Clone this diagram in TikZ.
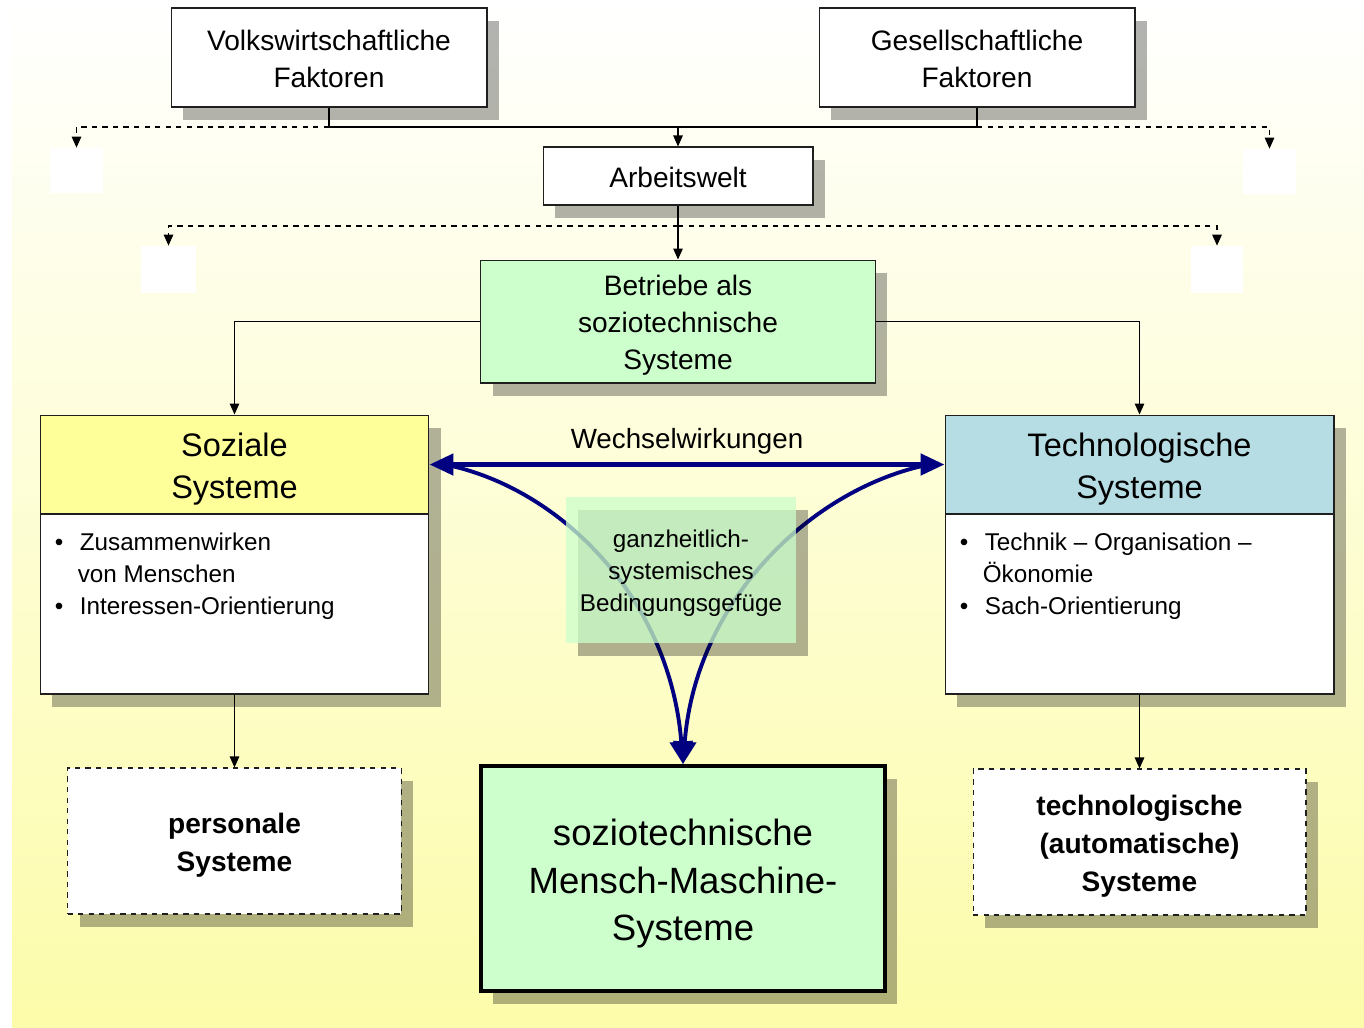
\documentclass[tikz,border=0pt]{standalone}
\usepackage{fontspec}
\setmainfont{Liberation Sans}
\usetikzlibrary{arrows.meta,positioning,shadows}
\definecolor{bgyellow}{HTML}{FCFCAA}
\definecolor{greenfill}{HTML}{CCFFCC}
\definecolor{headyellow}{HTML}{FFFF99}
\definecolor{headblue}{HTML}{B6DDE3}
\definecolor{navyline}{HTML}{000080}
\definecolor{boxline}{HTML}{1F1F1F}
\newcommand{\bul}{\makebox[0.5cm][l]{\textbullet}}
\newcommand{\tstrut}{\rule{0pt}{1.1em}}
\newcommand{\bstrut}{\rule[-0.3em]{0pt}{0.3em}}

\begin{document}
\begin{tikzpicture}[
  x=0.02cm, y=-0.02cm,
  shadowed/.style={drop shadow={shadow xshift=0.24cm, shadow yshift=-0.26cm, fill=black, opacity=0.3}},
  struts/.style={execute at end node=\bstrut},
  box/.style={
    draw=boxline,
    line width=0.6pt,
    fill=white,
    align=center,
    inner sep=0pt,
    struts,
    shadowed
  },
  factor/.style={box, minimum width=6.32cm, minimum height=1.98cm, font=\fontsize{16}{21}\selectfont},
  system/.style={box, minimum width=7.78cm, minimum height=5.58cm},
  head/.style={
    draw=boxline,
    line width=0.6pt,
    minimum width=7.78cm,
    minimum height=1.98cm,
    align=center,
    inner sep=0pt,
    struts,
    font=\fontsize{18.5}{24.4}\selectfont
  },
  items/.style={align=left, inner sep=0pt, anchor=north west, font=\fontsize{13.8}{18.1}\selectfont},
  result/.style={box, dashed, minimum width=6.68cm, minimum height=2.92cm, font=\fontsize{16}{21.5}\selectfont\bfseries},
  ghost/.style={fill=white, inner sep=0pt, minimum width=1.06cm, minimum height=0.9cm},
  arrow/.style={-{Triangle[length=2.2mm, width=1.9mm]}, line width=0.7pt},
  guess/.style={arrow, dashed},
  wirk/.style={draw=navyline, line width=2.8pt},
  curve/.style={draw=navyline, line width=2.2pt, -{Triangle[length=0.45cm, width=0.45cm]}}
]
  \useasboundingbox (0,0) rectangle (1364,1027);
  \shade[top color=white, bottom color=bgyellow] (12,0) rectangle (1364,1027);

  % Factors and world of work
  \node[factor] (volk) at (329,57.5) {\tstrut Volkswirtschaftliche\\Faktoren};
  \node[factor] (gesell) at (977,57.5) {\tstrut Gesellschaftliche\\Faktoren};
  \node[box, minimum width=5.4cm, minimum height=1.16cm, font=\fontsize{16}{21}\selectfont] (arbeit) at (678,176) {\tstrut Arbeitswelt};
  \node[box, fill=greenfill, minimum width=7.9cm, minimum height=2.46cm, font=\fontsize{16}{21}\selectfont, below=1.08cm of arbeit] (betr) {\tstrut Betriebe als\\soziotechnische\\Systeme};

  % Hidden boxes
  \node[ghost] (gl1) at (76.5,170.5) {};
  \node[ghost] (gr1) at (1269.5,171.5) {};
  \node[ghost, minimum width=1.1cm, minimum height=0.94cm] (gl2) at (168.5,269.5) {};
  \node[ghost, minimum width=1.04cm, minimum height=0.94cm] (gr2) at (1217,269.5) {};

  % Systems
  \node[system] (soz) at (234.5,554.5) {};
  \node[head, fill=headyellow, anchor=north] (sozhead) at (soz.north) {\tstrut Soziale\\Systeme};
  \node[items] (sozlist) at ([xshift=0.3cm, yshift=-0.36cm]sozhead.south west) {\bul Zusammenwirken\\\hspace{0.46cm}von Menschen\\\bul Interessen-Orientierung};

  \node[system] (tech) at (1139.5,554.5) {};
  \node[head, fill=headblue, anchor=north] (techhead) at (tech.north) {\tstrut Technologische\\Systeme};
  \node[items] (techlist) at ([xshift=0.3cm, yshift=-0.36cm]techhead.south west) {\bul Technik – Organisation –\\\hspace{0.46cm}Ökonomie\\\bul Sach-Orientierung};

  % Resulting systems
  \node[result, below=1.46cm of soz] (pers) {\tstrut personale\\Systeme};
  \node[result, minimum width=6.66cm, below=1.48cm of tech] (auto) {\tstrut technologische\\(automatische)\\Systeme};
  \node[box, fill=greenfill, draw=black, line width=2.3pt, minimum width=8.08cm, minimum height=4.5cm, font=\fontsize{20.8}{27}\selectfont] (smm) at (683,878.5) {\tstrut soziotechnische\\Mensch-Maschine-\\Systeme};

  % Connectors
  \coordinate (j1) at (678,127);
  \draw[line width=0.7pt] (volk.south) |- (j1) -| (gesell.south);
  \draw[arrow] (j1) -- (arbeit.north);
  \draw[guess] (volk.south |- j1) -| (gl1.north);
  \draw[guess] (gesell.south |- j1) -| (gr1.north);
  \coordinate (j2) at (678,226);
  \draw[arrow] (arbeit.south) -- (betr.north);
  \draw[guess] (j2) -| (gl2.north);
  \draw[guess] (j2) -| (gr2.north);
  \draw[arrow] (betr.west) -| (soz.north);
  \draw[arrow] (betr.east) -| (tech.north);
  \draw[arrow] (soz.south) -- (pers.north);
  \draw[arrow] (tech.south) -- (auto.north);

  % Interaction arrows
  \draw[wirk, {Triangle[length=0.48cm, width=0.42cm]}-{Triangle[length=0.48cm, width=0.42cm]}] (sozhead.east) -- (techhead.west)
    node[midway, above=1.3pt, font=\fontsize{15.8}{19}\selectfont] (wlab) {Wechselwirkungen}
    coordinate[pos=0.03] (wl) coordinate[pos=0.97] (wr);
  \draw[curve] (wl) .. controls +(115,23) and +(-13,-166) .. (smm.north);
  \draw[curve] (wr) .. controls +(-115,23) and +(13,-166) .. (smm.north);

  \node[fill=greenfill, fill opacity=0.75, text opacity=1, minimum width=4.6cm, minimum height=2.92cm, align=center, inner sep=0pt, struts, font=\fontsize{13.8}{18.1}\selectfont, shadowed] (ganz) at (681,570) {\tstrut ganzheitlich-\\systemisches\\Bedingungsgefüge};
\end{tikzpicture}
\end{document}
